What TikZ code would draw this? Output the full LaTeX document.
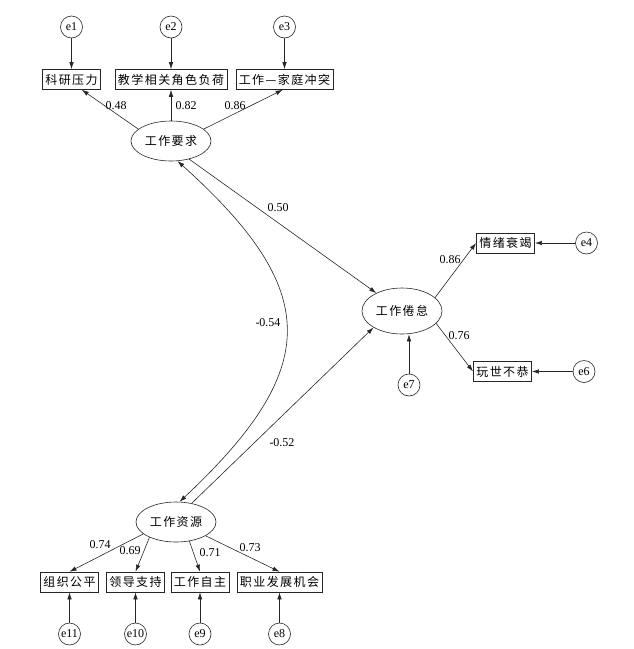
\documentclass[tikz,border=0pt]{standalone}
\usepackage{fontspec}
\setmainfont{Liberation Serif}
\newfontfamily\cjk[LetterSpace=12]{Noto Sans CJK SC}
\usepackage{xcolor}
\colorlet{colorPath}{black!85}
\usepackage{tikz}
\usetikzlibrary{arrows.meta, shapes.geometric, positioning}
\tikzset{latent/.style={ellipse, draw=colorPath, minimum width=80pt, minimum height=40pt, inner sep=1pt, font=\fontsize{12}{14}\selectfont\cjk}}
\tikzset{observed/.style={rectangle, draw=colorPath, minimum height=20pt, inner xsep=3pt, inner ysep=0pt, font=\fontsize{12}{14}\selectfont\cjk}}
\tikzset{residual/.style={circle, draw=colorPath, minimum size=22pt, inner sep=0pt, font=\fontsize{12}{14}\selectfont}}
\tikzset{weight/.style={inner sep=0pt, font=\fontsize{12}{14}\selectfont}}

\begin{document}
\begin{tikzpicture}[x=1pt, y=-1pt, >={Latex[length=7pt,width=4.5pt]}, line width=0.6pt]
\useasboundingbox (0,0) rectangle (633,649);
% latent variables
\node[latent] (gzyq) at (171,141) {工作要求};
\node[latent, minimum height=46pt] (gzjd) at (402,311) {工作倦怠};
\node[latent] (gzzy) at (176,522) {工作资源};
% indicators
\node[observed] (kyyl) at (71.5,79.5) {科研压力};
\node[observed] (jxjs) at (171,79.5) {教学相关角色负荷};
\node[observed] (gzjt) at (284.5,79.5) {工作—家庭冲突};
\node[observed] (sjsj) at (505.5,243) {情绪衰竭};
\node[observed] (wsbg) at (502.5,371.5) {玩世不恭};
\node[observed] (zzgp) at (69.5,582) {组织公平};
\node[observed] (ldzc) at (135.5,582) {领导支持};
\node[observed] (gzzz) at (200,582) {工作自主};
\node[observed] (zyfz) at (279.5,582) {职业发展机会};
% residuals
\node[residual] (e1) at (71.5,27) {e1};
\node[residual] (e2) at (171,27) {e2};
\node[residual] (e3) at (284.5,27) {e3};
\node[residual] (e4) at (586.5,243) {e4};
\node[residual] (e6) at (584,371.5) {e6};
\node[residual] (e7) at (409,385) {e7};
\node[residual] (e8) at (279.5,634) {e8};
\node[residual] (e9) at (200,634) {e9};
\node[residual] (e10) at (135.5,634) {e10};
\node[residual] (e11) at (69.5,634) {e11};
% loadings and paths
\node[weight] (l48) at (116,106) {0.48};
\node[weight] (l82) at (186,106) {0.82};
\node[weight] (l86a) at (235,106) {0.86};
\node[weight] (l50) at (278,208) {0.50};
\node[weight] (l54) at (268,323) {-0.54};
\node[weight] (l52) at (282,443) {-0.52};
\node[weight] (l86b) at (450,260) {0.86};
\node[weight] (l76) at (459,336) {0.76};
\node[weight] (l74) at (100,545) {0.74};
\node[weight] (l69) at (130,551) {0.69};
\node[weight] (l71) at (210,553) {0.71};
\node[weight] (l73) at (250,548) {0.73};
\draw [->, colorPath] (gzyq.160) -- (kyyl.-45);
\draw [->, colorPath] (gzyq) -- (jxjs);
\draw [->, colorPath] (gzyq.20) -- (gzjt.-100);
\draw [->, colorPath] (gzyq.-45) -- (gzjd.145);
\draw [->, colorPath] (gzzy.50) -- (gzjd.-150);
\draw [<->, colorPath] (gzyq.-72) .. controls (322,291) and (322,368) .. (gzzy.80);
\draw [->, colorPath] (gzjd.22) -- (sjsj.west);
\draw [->, colorPath] (gzjd.-20) -- (wsbg.west);
\draw [->, colorPath] (gzzy.200) -- (zzgp.north);
\draw [->, colorPath] (gzzy.210) -- (ldzc.north);
\draw [->, colorPath] (gzzy.-55) -- (gzzz.north);
\draw [->, colorPath] (gzzy.-25) -- (zyfz.north);
% error terms
\draw [->, colorPath] (e1) -- (kyyl);
\draw [->, colorPath] (e2) -- (jxjs);
\draw [->, colorPath] (e3) -- (gzjt);
\draw [->, colorPath] (e4) -- (sjsj);
\draw [->, colorPath] (e6) -- (wsbg);
\draw [->, colorPath] (e7) -- (gzjd.south -| e7);
\draw [->, colorPath] (e8) -- (zyfz);
\draw [->, colorPath] (e9) -- (gzzz);
\draw [->, colorPath] (e10) -- (ldzc);
\draw [->, colorPath] (e11) -- (zzgp);
\end{tikzpicture}
\end{document}
